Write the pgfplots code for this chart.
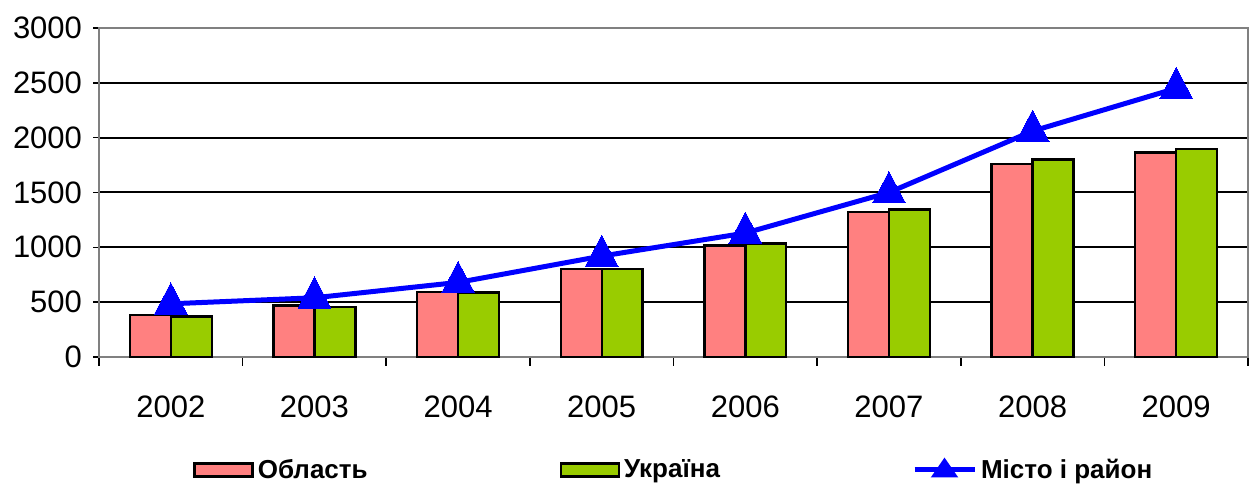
\documentclass[border=0pt]{standalone}
\usepackage{fontspec}
\setmainfont{Liberation Sans}
\usepackage{pgfplots}
\pgfplotsset{compat=1.18}

\definecolor{oblred}{HTML}{FF8080}
\definecolor{ukrgreen}{HTML}{99CC00}

\begin{document}
\begin{tikzpicture}
	\begin{axis}[
			scale only axis,
			width=574.5pt, height=164.5pt,
			xmin=-0.5, xmax=7.5,
			ymin=0, ymax=3000,
			xtick={0,...,7},
			xticklabels={2002,2003,2004,2005,2006,2007,2008,2009},
			major x tick style={draw=none},
			minor xtick={-0.5,0.5,...,7.5},
			minor x tick style={black, line width=0.8pt},
			minor tick length=4.5pt,
			ytick={0,500,...,3000},
			major tick length=3pt,
			y tick style={black, line width=0.8pt},
			tick align=outside,
			xtick pos=bottom, ytick pos=left,
			ymajorgrids,
			grid style={black, line width=1pt},
			axis line style={gray, line width=1pt},
			xticklabel style={yshift=-13pt},
			yticklabel style={xshift=-2pt},
			tick label style={font=\fontsize{15.5}{18}\selectfont},
			/pgf/number format/assume math mode=true,
			/pgf/number format/1000 sep={},
			clip=false,
			legend columns=3,
			legend style={at={(0.0818,-0.3435)}, anchor=west, draw=none, inner sep=0pt,
					font=\fontsize{13}{15}\selectfont\bfseries,
					/tikz/every even column/.append style={column sep=94pt}},
		]

		% Область
		\addplot[ybar, bar width=0.285, bar shift=-0.1425, fill=oblred, draw=black, line width=1.2pt,
			legend image code/.code={\draw[fill=oblred, draw=black, line width=1.2pt] (0pt,-3.3pt) rectangle (29pt,3.3pt);}]
		coordinates {(0,385) (1,470) (2,595) (3,800) (4,1015) (5,1320) (6,1760) (7,1865)};
		\addlegendentry{Область}

		% Україна
		\addplot[ybar, bar width=0.285, bar shift=0.1425, fill=ukrgreen, draw=black, line width=1.2pt,
			legend image code/.code={\draw[fill=ukrgreen, draw=black, line width=1.2pt] (0pt,-3.3pt) rectangle (29pt,3.3pt);}]
		coordinates {(0,368) (1,458) (2,588) (3,800) (4,1036) (5,1345) (6,1800) (7,1898)};
		\addlegendentry{Україна}

		% Місто і район
		\addplot[blue, line width=2.5pt, mark=triangle*, mark size=9.5pt,
			mark options={solid, fill=blue, draw=blue, line width=0pt, yscale=1.1},
			legend image code/.code={
					\draw[blue, line width=2.5pt] (0pt,0pt) -- (30pt,0pt);
					\fill[blue] (15pt,4pt) -- (10.5pt,-2.5pt) -- (19.5pt,-2.5pt) -- cycle;}]
		coordinates {(0,485) (1,540) (2,680) (3,920) (4,1130) (5,1500) (6,2060) (7,2450)};
		\addlegendentry{Місто і район}

		\path (rel axis cs:-0.0862,-0.392) rectangle (rel axis cs:1.0052,1.0851);
	\end{axis}
\end{tikzpicture}
\end{document}
